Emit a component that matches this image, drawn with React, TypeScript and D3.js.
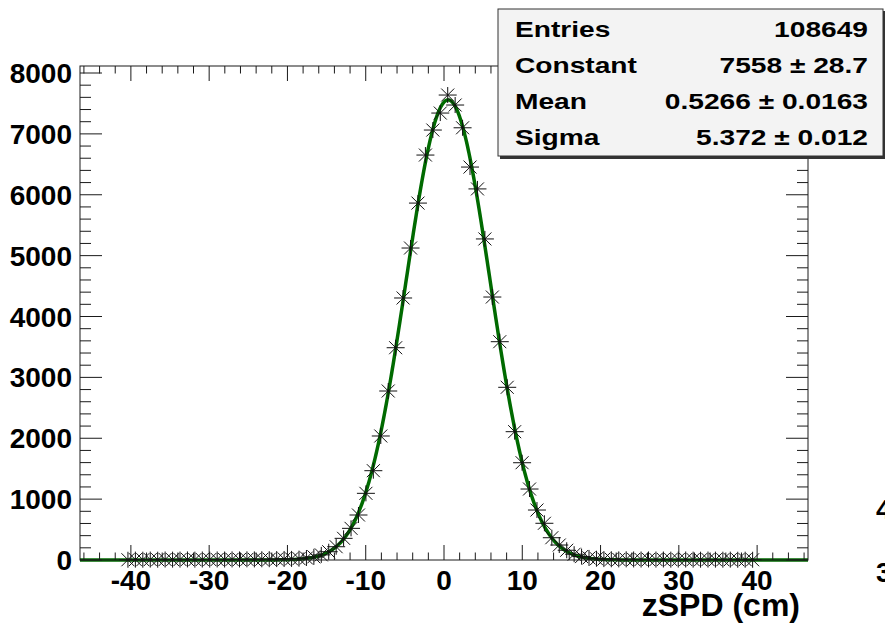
import * as React from 'react';
import * as d3 from 'd3';

// histogram binning (cm)
const histMin = -40.85
const binWidth = 0.95

// counts per bin
const counts: number[] = [
    4, 6, 5, 7, 5, 8, 6, 7, 9, 6, 8, 7, 9, 8, 10, 9, 11, 10, 12, 13, 15, 17,
    18, 22, 33, 52, 84, 136, 218, 356, 520, 739, 1095, 1467, 2037, 2776, 3487,
    4304, 5125, 5863, 6652, 7063, 7342, 7638, 7474, 7100, 6455, 6096, 5274,
    4320, 3586, 2837, 2108, 1598, 1166, 821, 603, 366, 246, 160, 95, 56, 34, 21,
    15, 12, 10, 11, 9, 8, 9, 7, 8, 6, 7, 8, 6, 5, 7, 6, 5, 6, 4, 5, 4
]

// gaussian fit parameters (from the stats box)
const fitConstant = 7558
const fitMean = 0.5266
const fitSigma = 5.372

const statsLabels = ['Entries', 'Constant', 'Mean', 'Sigma']
const statsValues = ['108649', '7558 \u00b1 28.7', '0.5266 \u00b1 0.0163', '5.372 \u00b1 0.012']

const xTicks = [-40, -30, -20, -10, 0, 10, 20, 30, 40]
const yTicks = [0, 1000, 2000, 3000, 4000, 5000, 6000, 7000, 8000]

const frame = { left: 80, right: 808, top: 66, bottom: 560 }
const font = '"Liberation Sans", Arial, Helvetica, sans-serif'

const App = () => {
    const x = d3.scaleLinear().domain([-46.5, 46.5]).range([frame.left, frame.right])
    const y = d3.scaleLinear().domain([0, 8115]).range([frame.bottom, frame.top])

    const xMinor = d3.range(-46, 47, 2).filter(v => v % 10 !== 0)
    const yMinor = d3.range(0, 8001, 200).filter(v => v % 1000 !== 0)

    const gauss = (v: number) => fitConstant * Math.exp(-0.5 * Math.pow((v - fitMean) / fitSigma, 2))
    const fitLine = d3.line<number>()
        .x(v => x(v))
        .y(v => y(gauss(v)))
    const fitPts = d3.range(-46.5, 46.55, 0.1)

    const points = counts.map((c, i) => ({ cx: histMin + binWidth * (i + 0.5), c }))

    return (
        <svg width={885} height={623} style={{ position: 'absolute', left: 0, top: 0, background: '#fff' }}
            fontFamily={font}>
            <rect width={885} height={623} fill="#fff" />

            {/* fit curve */}
            <path d={fitLine(fitPts) ?? ''} fill="none" stroke="#006a00" strokeWidth={3.5} />

            {/* histogram markers (asterisk) */}
            <g stroke="#111" strokeWidth={1}>
                {points.map((p, i) => {
                    const px = x(p.cx), py = y(p.c)
                    return (
                        <g key={i} transform={`translate(${px},${py})`}>
                            <line x1={-9} x2={9} y1={0} y2={0} />
                            <line x1={0} x2={0} y1={-8} y2={8} />
                            <line x1={-6.5} x2={6.5} y1={-6.5} y2={6.5} />
                            <line x1={-6.5} x2={6.5} y1={6.5} y2={-6.5} />
                        </g>
                    )
                })}
            </g>

            {/* frame */}
            <rect x={frame.left} y={frame.top} width={frame.right - frame.left} height={frame.bottom - frame.top}
                fill="none" stroke="#1a1a1a" strokeWidth={1} />

            {/* ticks on all four sides */}
            <g stroke="#1a1a1a" strokeWidth={1}>
                {xTicks.map(t => (
                    <g key={'xm' + t}>
                        <line x1={x(t)} x2={x(t)} y1={frame.bottom} y2={frame.bottom - 15} />
                        <line x1={x(t)} x2={x(t)} y1={frame.top} y2={frame.top + 15} />
                    </g>
                ))}
                {xMinor.map(t => (
                    <g key={'xn' + t}>
                        <line x1={x(t)} x2={x(t)} y1={frame.bottom} y2={frame.bottom - 7.5} />
                        <line x1={x(t)} x2={x(t)} y1={frame.top} y2={frame.top + 7.5} />
                    </g>
                ))}
                {yTicks.map(t => (
                    <g key={'ym' + t}>
                        <line x1={frame.left} x2={frame.left + 22} y1={y(t)} y2={y(t)} />
                        <line x1={frame.right} x2={frame.right - 22} y1={y(t)} y2={y(t)} />
                    </g>
                ))}
                {yMinor.map(t => (
                    <g key={'yn' + t}>
                        <line x1={frame.left} x2={frame.left + 11} y1={y(t)} y2={y(t)} />
                        <line x1={frame.right} x2={frame.right - 11} y1={y(t)} y2={y(t)} />
                    </g>
                ))}
            </g>

            {/* tick labels */}
            <g fontWeight="bold" fontSize={28} fill="#000">
                {xTicks.map(t => (
                    <text key={'xl' + t} x={x(t)} y={590} textAnchor="middle">{t}</text>
                ))}
                {yTicks.map(t => (
                    <text key={'yl' + t} x={72} y={y(t) + 10} textAnchor="end">{t}</text>
                ))}
            </g>

            {/* axis title */}
            <text x={800} y={616} textAnchor="end" fontWeight="bold" fontSize={32}>zSPD (cm)</text>

            {/* stats box */}
            <rect x={500} y={11} width={386} height={148} fill="#333" />
            <rect x={498} y={9} width={385} height={147} fill="#f3f3f3" stroke="#333" strokeWidth={1} />
            <g fontWeight="bold" fontSize={22} fill="#000">
                {statsLabels.map((s, i) => (
                    <text key={s} transform={`translate(515,${37 + i * 36}) scale(1.28,1)`}>{s}</text>
                ))}
                {statsValues.map((s, i) => (
                    <text key={s} transform={`translate(868,${37 + i * 36}) scale(1.28,1)`} textAnchor="end">{s}</text>
                ))}
            </g>

            {/* neighbouring pad labels, cut off at the edge as in the reference */}
            <g fontWeight="bold" fontSize={28} fill="#000">
                <text x={876} y={519}>4</text>
                <text x={876} y={582}>3</text>
            </g>
        </svg>
    )
}

export default App
